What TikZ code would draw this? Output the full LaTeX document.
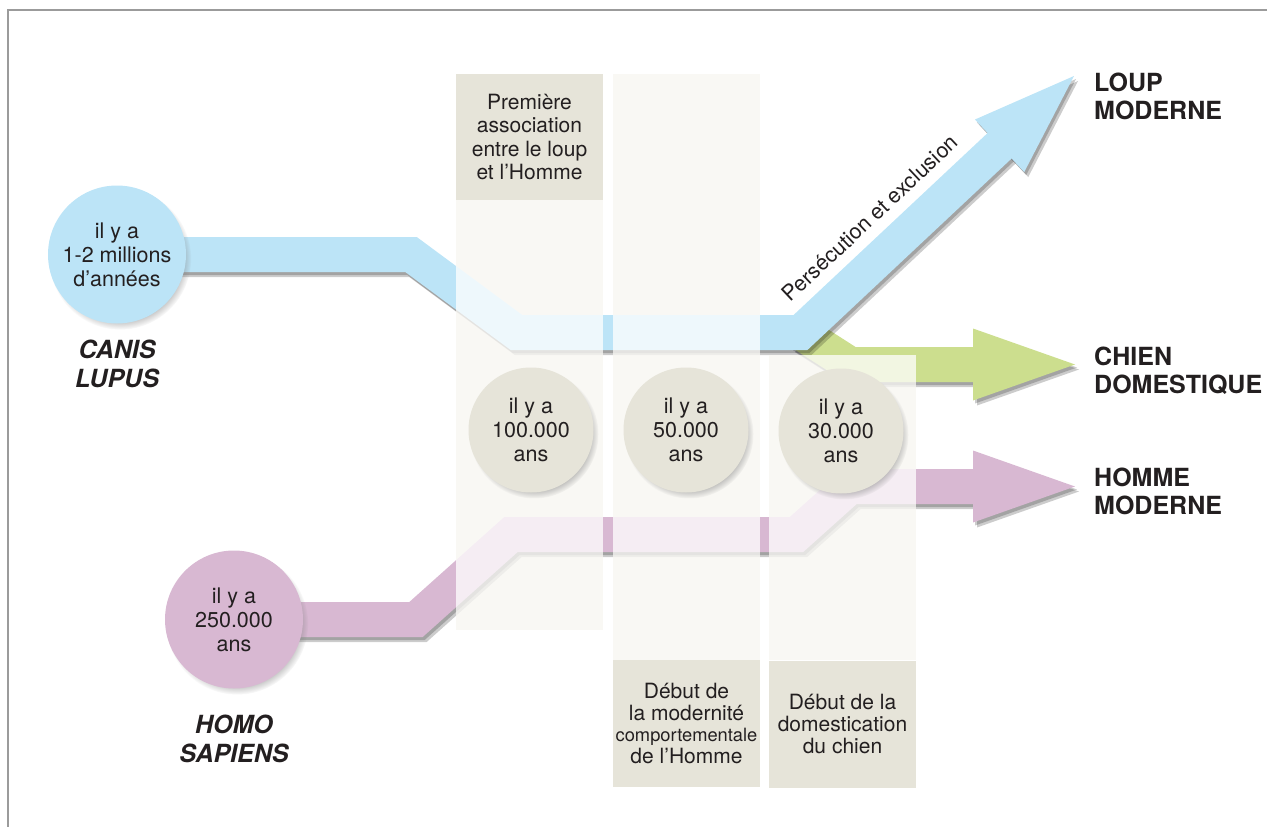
\documentclass[tikz,border=0pt]{standalone}
\usepackage{fontspec}
\setmainfont{TeX Gyre Heros}
\usetikzlibrary{calc,shadows,fadings}
\definecolor{wolfblue}{RGB}{188,228,247}
\definecolor{doggreen}{RGB}{204,222,142}
\definecolor{manpurple}{RGB}{216,184,210}
\definecolor{boxbeige}{RGB}{230,228,217}
\definecolor{colbase}{RGB}{235,231,215}
\definecolor{ink}{RGB}{35,31,32}
\definecolor{framegray}{RGB}{155,155,155}
\tikzset{
  band/.style={line width=35pt, line join=miter, line cap=butt},
  bandshadow/.style={band, draw=black, draw opacity=0.2},
  headshadow/.style={fill=black, fill opacity=0.2},
  yearcircle/.style={circle, inner sep=0pt, align=center, text=ink,
    font={\fontsize{21.5pt}{24pt}\selectfont},
    circular drop shadow={shadow xshift=3pt, shadow yshift=-4pt, opacity=0.55, shadow scale=1.03}},
  labelbox/.style={fill=boxbeige, inner sep=0pt, minimum width=147pt, align=center, text=ink,
    font={\fontsize{21pt}{23.5pt}\selectfont}},
  lowbox/.style={labelbox, minimum height=127pt, font={\fontsize{21pt}{21.8pt}\selectfont}},
  species/.style={align=center, text=ink, inner sep=0pt,
    font={\fontsize{25pt}{29pt}\selectfont\bfseries\itshape}},
  result/.style={align=left, anchor=west, text=ink, inner sep=0pt,
    font={\fontsize{25pt}{28pt}\selectfont\bfseries}},
  colveil/.style={fill=white, fill opacity=0.75},
  shA/.style={transform canvas={shift={(2pt,-3pt)}}},
  shB/.style={transform canvas={shift={(4pt,-5pt)}}}
}
\newcommand\purpleroute{(homoC) -- (p1) -- (p2) -- (p3) -- (p4) -- (pE)}
\newcommand\purplehead{(pL) -- (pT) -- (pR) -- cycle}
\newcommand\greenroute{(bJ) -- (g1) -- (gE)}
\newcommand\greenhead{(gL) -- (gT) -- (gR) -- cycle}
\newcommand\blueroute{(canisC) -- (b1) -- (b2) -- (bJ) -- (bE)}
\newcommand\bluehead{(bL) -- (bT) -- (bR) -- cycle}
\begin{document}
\begin{tikzpicture}[x=1pt,y=-1pt]
\useasboundingbox (0,0) rectangle (1267,827);
\draw[framegray, line width=1.5pt] (1267,10) -- (8,10) -- (8,827);

% column bases
\fill[colbase] (456,74) rectangle (603,630);
\fill[colbase] (613,74) rectangle (760,660);
\fill[colbase] (769,355) rectangle (916,660);

% route coordinates
\coordinate (canisC) at (117,254.5);
\coordinate (homoC) at (234,619.5);
\coordinate (b1) at (411,254.5);
\coordinate (b2) at (516.5,332.5);
\coordinate (bJ) at (800.5,332.5);
\coordinate (bT) at (1074,76);
\coordinate (bB) at ($(bT)!102pt!(bJ)$);
\coordinate (bE) at ($(bB)!6pt!(bT)$);
\coordinate (bL) at ($(bB)!36pt!90:(bT)$);
\coordinate (bR) at ($(bB)!36pt!-90:(bT)$);
\coordinate (g1) at (850.5,364.5);
\coordinate (gE) at (979,364.5);
\coordinate (gT) at (1075,364.5);
\coordinate (gL) at (973,328.5);
\coordinate (gR) at (973,400.5);
\coordinate (p1) at (416,619.5);
\coordinate (p2) at (511,534.5);
\coordinate (p3) at (796.5,534.5);
\coordinate (p4) at (850,486.5);
\coordinate (pE) at (979,486.5);
\coordinate (pT) at (1075,486.5);
\coordinate (pL) at (973,450.5);
\coordinate (pR) at (973,522.5);

% purple route
\draw[bandshadow, shA] \purpleroute;
\draw[bandshadow, shB] \purpleroute;
\fill[headshadow, shA] \purplehead;
\fill[headshadow, shB] \purplehead;
\draw[band, manpurple] \purpleroute;
\fill[manpurple] \purplehead;

% green route
\draw[bandshadow, shA] \greenroute;
\draw[bandshadow, shB] \greenroute;
\fill[headshadow, shA] \greenhead;
\fill[headshadow, shB] \greenhead;
\draw[band, doggreen] \greenroute;
\fill[doggreen] \greenhead;

% blue route
\draw[bandshadow, shA] \blueroute;
\draw[bandshadow, shB] \blueroute;
\fill[headshadow, shA] \bluehead;
\fill[headshadow, shB] \bluehead;
\draw[band, wolfblue] \blueroute;
\fill[wolfblue] \bluehead;

% column veils
\fill[colveil] (456,200) rectangle (603,630);
\fill[colveil] (613,74) rectangle (760,660);
\fill[colveil] (769,355) rectangle (916,660);

% label boxes
\node[labelbox, minimum height=126pt] (boxA) at (529.5,137) {Première\\association\\entre le loup\\et l’Homme};
\node[lowbox] (boxB) at (686.5,723.5) {Début de\\la modernité\\{\fontsize{18.3pt}{21.8pt}\selectfont comportementale}\\de l’Homme};
\node[lowbox] (boxC) at (842.5,724) {Début de la\\domestication\\du chien};

% circles
\node[yearcircle, fill=wolfblue, minimum size=138pt] (canis) at (canisC) {il y a\\1-2 millions\\d’années};
\node[yearcircle, fill=manpurple, minimum size=138pt] (homo) at (homoC) {il y a\\250.000\\ans};
\node[yearcircle, fill=boxbeige, minimum size=125pt] (k100) at (531,430) {il y a\\100.000\\ans};
\node[yearcircle, fill=boxbeige, minimum size=125pt] (k50) at (686,430) {il y a\\50.000\\ans};
\node[yearcircle, fill=boxbeige, minimum size=125pt] (k30) at (841,431) {il y a\\30.000\\ans};

% texts
\node[species] (canisname) at (117,364) {CANIS\\LUPUS};
\node[species] (homoname) at (234,739) {HOMO\\SAPIENS};
\node[result] (loup) at (1094,96) {LOUP\\MODERNE};
\node[result] (chien) at (1094,371) {CHIEN\\DOMESTIQUE};
\node[result] (homme) at (1094,491) {HOMME\\MODERNE};
\node[text=ink, rotate=43.2, inner sep=0pt, font={\fontsize{21.5pt}{24pt}\selectfont}] (persec) at (870,218) {Persécution et exclusion};
\end{tikzpicture}
\end{document}
